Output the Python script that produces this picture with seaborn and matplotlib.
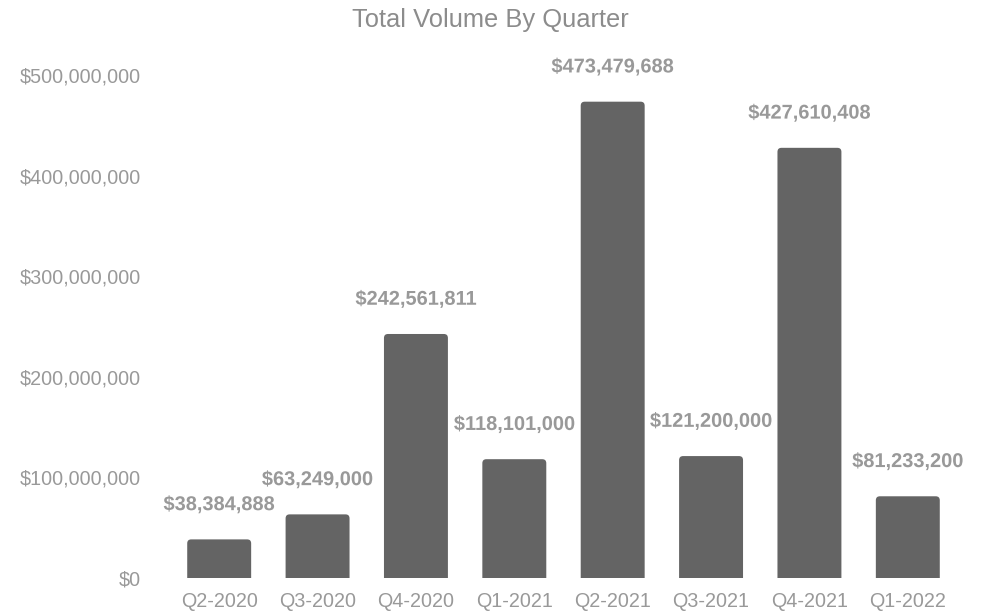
import matplotlib
matplotlib.use("Agg")
import matplotlib.pyplot as plt
import matplotlib.patheffects as pe
from matplotlib.patches import FancyBboxPatch
from matplotlib.ticker import FuncFormatter
import pandas as pd
import seaborn as sns

quarters = ["Q2-2020", "Q3-2020", "Q4-2020", "Q1-2021",
            "Q2-2021", "Q3-2021", "Q4-2021", "Q1-2022"]
volumes = [38384888, 63249000, 242561811, 118101000,
           473479688, 121200000, 427610408, 81233200]
y_ticks = [0, 100000000, 200000000, 300000000, 400000000, 500000000]

df = pd.DataFrame({"quarter": quarters, "volume": volumes})

sns.set_theme(style="white")
plt.rcParams["font.family"] = ["Liberation Sans", "DejaVu Sans"]

fig = plt.figure(figsize=(9.81, 6.14), dpi=100)
ax = fig.add_axes([170 / 981, 1 - 578 / 614, (957 - 170) / 981, (578 - 75) / 614])

sns.barplot(data=df, x="quarter", y="volume", color="#646464", width=0.65,
            saturation=1, ax=ax)

ax.set_ylim(0, 500000000)
ax.set_xlim(-0.5, len(quarters) - 0.5)

# Swap the plain rectangles for ones with softly rounded tops; the rounded
# bottom edge sits below zero and is clipped away by the axes.
fig.canvas.draw()
bbox = ax.get_window_extent()
x_per_px = (len(quarters)) / bbox.width
y_per_px = 500000000 / bbox.height
aspect = y_per_px / x_per_px
radius = 4 * x_per_px
for bar in list(ax.patches):
    x0, w, h = bar.get_x(), bar.get_width(), bar.get_height()
    fc = bar.get_facecolor()
    bar.set_visible(False)
    rounded = FancyBboxPatch((x0, -radius * aspect), w, h + radius * aspect,
                             boxstyle=f"round,pad=0,rounding_size={radius}",
                             mutation_aspect=aspect, facecolor=fc,
                             edgecolor="none", linewidth=0)
    ax.add_patch(rounded)

ax.set_yticks(y_ticks)
ax.yaxis.set_major_formatter(FuncFormatter(lambda v, _: f"${v:,.0f}"))
ax.set_xlabel("")
ax.set_ylabel("")
ax.tick_params(axis="y", length=0, pad=21, labelsize=14.2, labelcolor="#999999")
ax.tick_params(axis="x", length=0, pad=10, labelsize=14.2, labelcolor="#999999")
sns.despine(ax=ax, left=True, bottom=True)
ax.grid(False)

halo = [pe.withStroke(linewidth=3.5, foreground="white")]
for i, v in enumerate(volumes):
    ax.annotate(f"${v:,.0f}", xy=(i, v), xytext=(0, 25),
                textcoords="offset points", ha="center", va="center",
                fontsize=14.4, fontweight="bold", color="#999999",
                path_effects=halo, annotation_clip=False)

fig.text(0.5, 1 - 20 / 614, "Total Volume By Quarter", ha="center", va="center",
         fontsize=18.4, color="#8c8c8c")

fig.savefig("out.png", dpi=100)
